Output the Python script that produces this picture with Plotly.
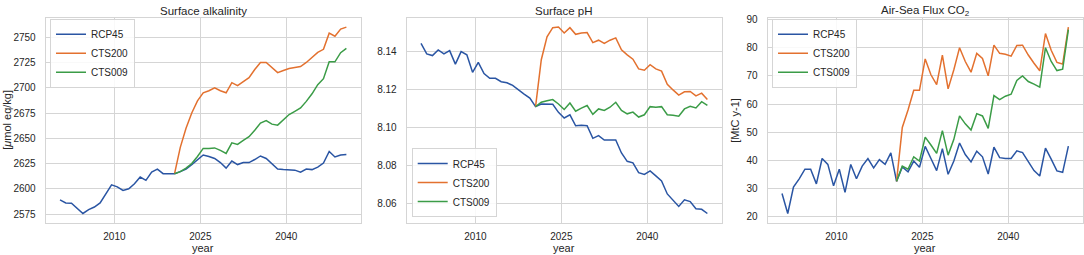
import plotly.graph_objects as go

# ---------------- data ----------------
years = list(range(2000, 2051))
scen_years = list(range(2020, 2051))
x_ticks = [2010, 2025, 2040]

alk_rcp45 = [2589, 2586, 2585.7, 2581, 2575.6, 2579.5, 2582, 2586, 2594.5, 2604,
             2602, 2598.4, 2600, 2605, 2611.7, 2608.4, 2616.6, 2619.5, 2615, 2615,
             2615, 2617, 2619.5, 2624, 2629, 2633.5, 2632, 2630, 2626, 2620.5,
             2627.5, 2624, 2626, 2626, 2629, 2632.5, 2630, 2625, 2619.5, 2619,
             2619, 2618.5, 2616.5, 2619.5, 2619, 2621.5, 2625.5, 2637, 2631.5, 2633.5,
             2634]
alk_cts200 = [2615, 2641, 2660, 2675, 2687, 2695, 2697, 2700, 2697, 2695,
              2705, 2702, 2706, 2710, 2718, 2725, 2725, 2720, 2715, 2717,
              2719, 2720, 2721, 2725, 2730, 2735, 2738, 2754, 2751, 2758,
              2760]
alk_cts009 = [2615, 2617, 2620.5, 2625, 2632, 2640, 2640, 2640.5, 2638, 2635,
              2645.5, 2644, 2648, 2651.6, 2658, 2665, 2667.6, 2664, 2663, 2668.5,
              2673.5, 2676.7, 2680, 2686.5, 2694, 2703, 2709, 2725.6, 2725.6, 2734.7,
              2739]
alk_ticks = [2575, 2600, 2625, 2650, 2675, 2700, 2725, 2750]

ph_rcp45 = [8.1443, 8.1388, 8.1379, 8.1409, 8.1388, 8.1405, 8.1334, 8.1400, 8.1383, 8.1291,
            8.1343, 8.1284, 8.1259, 8.1259, 8.1241, 8.1236, 8.1222, 8.1198, 8.1176, 8.1155,
            8.1110, 8.1124, 8.1124, 8.1122, 8.1080, 8.1050, 8.1067, 8.1009, 8.1012, 8.1009,
            8.0943, 8.0957, 8.0934, 8.0934, 8.0934, 8.0866, 8.0822, 8.0814, 8.0762, 8.0753,
            8.0771, 8.0745, 8.0719, 8.0650, 8.0616, 8.0584, 8.0619, 8.0610, 8.0572, 8.0569,
            8.0547]
ph_cts200 = [8.1110, 8.1357, 8.1478, 8.1526, 8.1529, 8.1498, 8.1526, 8.1491, 8.1498, 8.1500,
             8.1447, 8.1460, 8.1443, 8.1460, 8.1472, 8.1409, 8.1383, 8.1360, 8.1309, 8.1302,
             8.1331, 8.1309, 8.1297, 8.1228, 8.1198, 8.1171, 8.1188, 8.1190, 8.1167, 8.1181,
             8.1147]
ph_cts009 = [8.1110, 8.1133, 8.1141, 8.1147, 8.1124, 8.1095, 8.1129, 8.1086, 8.1102, 8.1116,
             8.1069, 8.1098, 8.1090, 8.1107, 8.1133, 8.1090, 8.1072, 8.1081, 8.1055, 8.1067,
             8.1110, 8.1107, 8.1110, 8.1067, 8.1064, 8.1060, 8.1098, 8.1112, 8.1103, 8.1136,
             8.1116]
ph_ticks = [8.06, 8.08, 8.10, 8.12, 8.14]

flux_rcp45 = [28.3, 21.2, 30.6, 33.5, 36.9, 36.9, 31.7, 40.7, 38.6, 31.0,
              36.9, 28.7, 38.6, 33.5, 38.0, 40.7, 37.4, 40.3, 38.6, 42.7,
              32.6, 37.7, 36.0, 39.8, 37.6, 45.0, 40.7, 36.4, 44.2, 35.1,
              39.8, 46.2, 42.1, 39.5, 43.3, 41.3, 35.2, 44.7, 41.0, 40.7,
              40.7, 43.4, 42.8, 39.5, 36.4, 34.5, 44.4, 40.5, 36.3, 35.8,
              45.1]
flux_cts200 = [32.6, 51.7, 57.9, 64.9, 64.9, 76.0, 70.4, 66.9, 77.4, 65.4,
               72.2, 80.0, 75.1, 71.3, 78.0, 76.2, 70.0, 80.9, 78.0, 77.7,
               77.0, 80.8, 80.9, 77.4, 74.5, 71.8, 85.0, 79.1, 74.8, 74.2,
               87.3]
flux_cts009 = [32.6, 38.0, 36.9, 41.3, 39.8, 48.3, 45.5, 42.5, 50.6, 41.9,
               47.5, 55.8, 53.0, 50.8, 56.6, 55.8, 51.4, 63.0, 61.6, 62.8,
               63.5, 68.4, 70.0, 68.0, 67.1, 66.0, 80.0, 75.1, 71.9, 72.4,
               86.4]
flux_ticks = [20, 30, 40, 50, 60, 70, 80, 90]

series_names = ["RCP45", "CTS200", "CTS009"]
titles = ["Surface alkalinity", "Surface pH", "Air-Sea Flux CO<sub>2</sub>"]
ylabels = ["[<i>μ</i>mol eq/kg]", "", "[MtC y-1]"]

# ---------------- style ----------------
W, H = 1084, 255
FONT = "Liberation Sans, Arial, sans-serif"
TXT = "#262626"
GRID = "#d5d5d5"
colors = ["#2a55a3", "#e3712f", "#3b9c47"]

# mid-year positions
xs_all = [y + 0.5 for y in years]
xs_scen = [y + 0.5 for y in scen_years]

panels = [
    (alk_rcp45, alk_cts200, alk_cts009, alk_ticks, None),
    (ph_rcp45, ph_cts200, ph_cts009, ph_ticks, ".2f"),
    (flux_rcp45, flux_cts200, flux_cts009, flux_ticks, None),
]

# plot areas in pixels (left, right), common top/bottom
px_left = [45.7, 406.7, 767.7]
px_w = 315.0
px_top, px_bot = 14.0, 222.3


def fx(px):
    return px / W


def fy(py):
    return 1 - py / H


def padded(vals, frac=0.05):
    lo, hi = min(vals), max(vals)
    d = (hi - lo) * frac
    return [lo - d, hi + d]


fig = go.Figure()
xr = padded(xs_all)
legend_names = ["legend", "legend2", "legend3"]

for i, (rcp, c200, c009, yt, fmt) in enumerate(panels):
    ax = "" if i == 0 else str(i + 1)
    for name, xs, ys, col in zip(series_names, [xs_all, xs_scen, xs_scen],
                                 [rcp, c200, c009], colors):
        fig.add_trace(go.Scatter(
            x=xs, y=ys, mode="lines", name=name,
            line=dict(color=col, width=1.5),
            xaxis="x" + ax, yaxis="y" + ax,
            legend=legend_names[i],
        ))
    yr = padded(rcp + c200 + c009)
    axstyle = dict(showgrid=True, gridcolor=GRID, gridwidth=1,
                   showline=True, linecolor=GRID, linewidth=1, mirror=True,
                   zeroline=False, ticks="outside", tickcolor="rgba(0,0,0,0)",
                   tickfont=dict(family=FONT, size=10, color=TXT))
    fig.update_layout({
        "xaxis" + ax: dict(domain=[fx(px_left[i]), fx(px_left[i] + px_w)],
                           anchor="y" + ax, range=xr, tickvals=x_ticks,
                           ticklen=4, **axstyle),
        "yaxis" + ax: dict(domain=[fy(px_bot), fy(px_top)],
                           anchor="x" + ax, range=yr, tickvals=yt,
                           tickformat=fmt, ticklen=7, **axstyle),
    })
    cx = px_left[i] + px_w / 2
    fig.add_annotation(text=titles[i], x=fx(cx), y=fy(7.5), xref="paper", yref="paper",
                       showarrow=False, xanchor="center", yanchor="middle",
                       font=dict(family=FONT, size=11.5, color=TXT))
    fig.add_annotation(text="year", x=fx(cx), y=fy(247.5), xref="paper", yref="paper",
                       showarrow=False, xanchor="center", yanchor="middle",
                       font=dict(family=FONT, size=11, color=TXT))

# y-axis titles
fig.add_annotation(text=ylabels[0], x=fx(7.5), y=fy((px_top + px_bot) / 2),
                   xref="paper", yref="paper", showarrow=False, textangle=-90,
                   xanchor="center", yanchor="middle",
                   font=dict(family=FONT, size=11, color=TXT))
fig.add_annotation(text=ylabels[2], x=fx(735.5), y=fy((px_top + px_bot) / 2),
                   xref="paper", yref="paper", showarrow=False, textangle=-90,
                   xanchor="center", yanchor="middle",
                   font=dict(family=FONT, size=11, color=TXT))

leg_common = dict(bgcolor="rgba(255,255,255,0.85)", bordercolor=GRID, borderwidth=1,
                  font=dict(family=FONT, size=10, color=TXT), xanchor="left",
                  itemwidth=30, tracegroupgap=0)

fig.update_layout(
    width=W, height=H,
    margin=dict(l=0, r=0, t=0, b=0),
    paper_bgcolor="white", plot_bgcolor="white",
    showlegend=True,
    legend=dict(x=fx(50), y=fy(15), yanchor="top", **leg_common),
    legend2=dict(x=fx(411.7), y=fy(216.5), yanchor="bottom", **leg_common),
    legend3=dict(x=fx(772), y=fy(15), yanchor="top", **leg_common),
)

fig.write_html(
    "out.html",
    config={"displayModeBar": False},
    post_script="document.body.style.margin='0';document.body.style.overflow='hidden';",
)
